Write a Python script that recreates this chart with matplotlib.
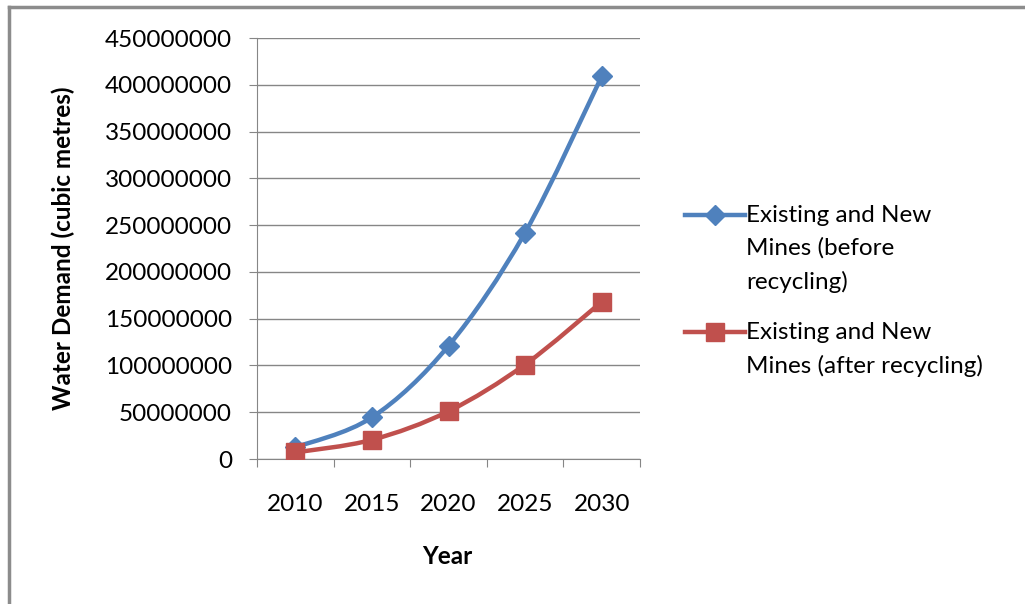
import numpy as np
import matplotlib
matplotlib.use("Agg")
import matplotlib.pyplot as plt
from matplotlib.path import Path
from matplotlib.patches import PathPatch
from matplotlib.lines import Line2D

plt.rcParams['font.family'] = ['Lato', 'DejaVu Sans']

years = ['2010', '2015', '2020', '2025', '2030']
before = [12500000, 44500000, 121000000, 242000000, 409000000]
after = [7000000, 20500000, 51000000, 101000000, 168000000]
label_before = 'Existing and New\nMines (before\nrecycling)'
label_after = 'Existing and New\nMines (after recycling)'

blue = '#4F81BD'
red = '#C0504D'
grid_col = '#868686'
fs = 17.5


def smooth_path(xs, ys):
    # excel style smoothed line: cubic bezier through the points
    pts = np.column_stack([xs, ys]).astype(float)
    n = len(pts)
    verts = [pts[0]]
    codes = [Path.MOVETO]
    for i in range(n - 1):
        p0 = pts[max(i - 1, 0)]
        p1 = pts[i]
        p2 = pts[i + 1]
        p3 = pts[min(i + 2, n - 1)]
        c1 = p1 + (p2 - p0) / 6.0
        c2 = p2 - (p3 - p1) / 6.0
        verts += [c1, c2, p2]
        codes += [Path.CURVE4] * 3
    return Path(verts, codes)


W, H = 1025, 604
fig = plt.figure(figsize=(W / 100, H / 100), dpi=100)
ax = fig.add_axes([257 / W, 1 - 459 / H, (640 - 257) / W, (459 - 38) / H])

x = np.arange(len(years))
for vals, col, mk, ms in [(before, blue, 'D', 10), (after, red, 's', 13)]:
    ax.add_patch(PathPatch(smooth_path(x, vals), facecolor='none', edgecolor=col,
                           lw=3.2, capstyle='round', joinstyle='round', zorder=3))
    ax.plot(x, vals, linestyle='none', marker=mk, markersize=ms, color=col,
            markeredgecolor=col, zorder=4)

ax.set_xlim(-0.5, 4.5)
ax.set_ylim(0, 450000000)
ax.set_yticks(np.arange(0, 450000001, 50000000))
ax.set_yticklabels([str(v) for v in range(0, 450000001, 50000000)])
ax.yaxis.grid(True, color=grid_col, lw=1)
ax.set_axisbelow(True)

ax.set_xticks(np.arange(-0.5, 5, 1))
ax.set_xticklabels([])
ax.set_xticks(x, minor=True)
ax.set_xticklabels(years, minor=True)
ax.tick_params(axis='x', which='major', direction='out', length=6, color=grid_col)
ax.tick_params(axis='x', which='minor', length=0, pad=25, labelsize=fs)
ax.tick_params(axis='y', direction='out', length=6, color=grid_col, pad=12, labelsize=fs)

for s in ['top', 'right']:
    ax.spines[s].set_visible(False)
for s in ['left', 'bottom']:
    ax.spines[s].set_color(grid_col)

fig.text(63 / W, 1 - 248 / H, 'Water Demand (cubic metres)', rotation=90,
         fontsize=fs, fontweight='bold', ha='center', va='center')
fig.text(447 / W, 1 - 557 / H, 'Year', fontsize=fs, fontweight='bold',
         ha='center', va='center')

# legend drawn by hand so the wrapped labels get the wide line spacing
for lab, col, mk, ms, y0 in [(label_before, blue, 'D', 10, 215), (label_after, red, 's', 13, 332)]:
    fig.add_artist(Line2D([685 / W, 745 / W], [1 - y0 / H, 1 - y0 / H], color=col, lw=3.2,
                          transform=fig.transFigure))
    fig.add_artist(Line2D([715 / W], [1 - y0 / H], color=col, marker=mk, markersize=ms,
                          linestyle='none', transform=fig.transFigure))
    fig.text(746 / W, 1 - (y0 - 10) / H, lab, fontsize=fs, ha='left', va='top',
             linespacing=1.65)

# outer chart frame (only top and left edges visible in the crop)
fig.add_artist(Line2D([9 / W, 9 / W], [0, 1 - 7 / H], color='#8c8c8c', lw=2.5,
                      transform=fig.transFigure))
fig.add_artist(Line2D([9 / W, 1], [1 - 7 / H, 1 - 7 / H], color='#8c8c8c', lw=2.5,
                      transform=fig.transFigure))

fig.savefig('out.png', dpi=100)
